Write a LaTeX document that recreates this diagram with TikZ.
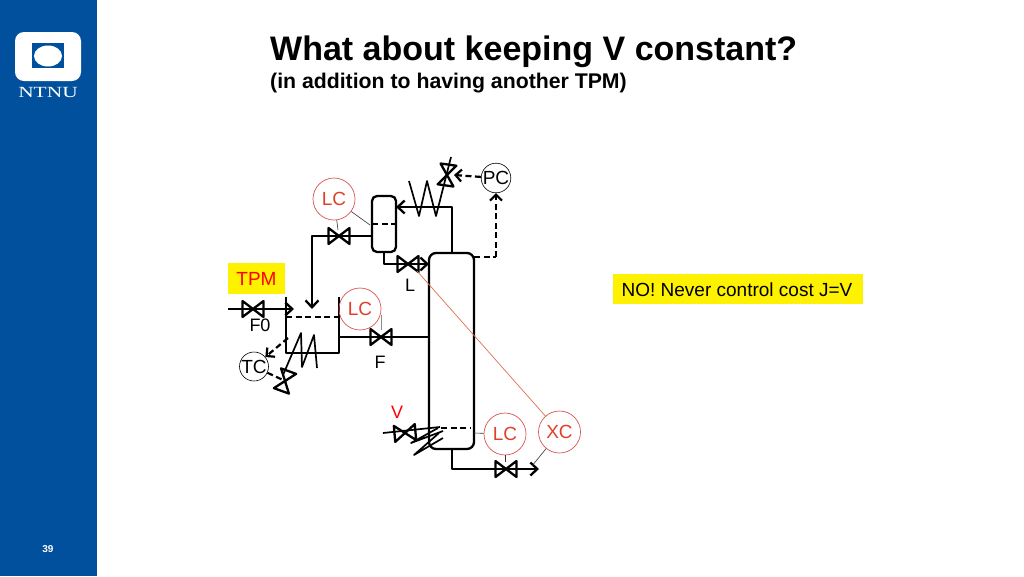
\documentclass[tikz,border=0pt]{standalone}
\usepackage{fontspec}
\setmainfont{Liberation Sans}
\newfontfamily\serifname[FakeStretch=1.38]{Liberation Serif}
\usetikzlibrary{arrows.meta}
\definecolor{ntnu}{HTML}{00509E}
\definecolor{ctrl}{HTML}{E0402A}
\definecolor{ctrlline}{HTML}{D9534F}
\definecolor{xcline}{HTML}{E0714F}
\tikzset{
  pipe/.style={line width=2.3pt,line join=round},
  flow/.style={pipe,-{Straight Barb[length=7pt,width=13pt,line width=2.3pt]}},
  sig/.style={line width=2.2pt,dash pattern=on 6pt off 3.5pt},
  sigarrow/.style={sig,-{Straight Barb[length=6pt,width=12pt,line width=2.2pt]}},
  thinline/.style={line width=0.6pt,black!80},
  redline/.style={line width=0.7pt,draw=xcline},
  rc/.style={circle,draw=ctrlline,line width=0.7pt,minimum size=42pt,inner sep=0pt,text=ctrl,font=\fontsize{19}{20}\selectfont},
  kc/.style={circle,draw=black,line width=0.6pt,minimum size=29pt,inner sep=0pt,font=\fontsize{19}{20}\selectfont},
  lab/.style={inner sep=0pt,font=\fontsize{18}{20}\selectfont},
  valve/.pic={\draw[pipe] (-10.5,-8)--(10.5,8)--(10.5,-8)--(-10.5,8)--cycle;}
}
\begin{document}
\begin{tikzpicture}[x=1pt,y=-1pt]
\useasboundingbox (0,0) rectangle (1024,576);
\fill[white] (0,0) rectangle (1024,576);
\fill[ntnu] (0,0) rectangle (97,576);
% logo
\fill[white,rounded corners=9pt] (15,32) rectangle (81,81);
\fill[ntnu] (32,43) rectangle (64,68);
\fill[white] (48,56) ellipse [x radius=14,y radius=10.5];
\node[text=white,inner sep=0pt,font=\serifname\fontsize{15.5}{16}\selectfont] (ntnulogo) at (48,92) {NTNU};
\node[text=white,inner sep=0pt,font=\bfseries\fontsize{10}{12}\selectfont] (page) at (48,549) {39};
% titles
\node[anchor=west,inner sep=0pt,font=\bfseries\fontsize{34}{36}\selectfont] (title) at (270,52) {What about keeping V constant?};
\node[anchor=west,inner sep=0pt,font=\bfseries\fontsize{21.25}{24}\selectfont] (subtitle) at (270,83) {(in addition to having another TPM)};
% yellow labels
\node[fill=yellow,minimum width=57pt,minimum height=31pt,inner sep=0pt,text=red,font=\fontsize{19}{20}\selectfont] (tpm) at (256.5,278.5) {TPM};
\node[fill=yellow,minimum width=250pt,minimum height=30pt,inner sep=0pt,font=\fontsize{19}{20}\selectfont] (no) at (738,289) {};
\node[inner sep=0pt,font=\fontsize{19}{20}\selectfont] (notext) at (737,290) {NO! Never control cost J=V};
% key points
\coordinate (coltop) at (452,253);
\coordinate (colbot) at (452,449);
\coordinate (colright) at (474,257);
\coordinate (ovhd) at (452,207);
\coordinate (drumin) at (396,207);
\coordinate (drumout) at (372,236);
\coordinate (drumbot) at (384,252);
\coordinate (lelbow) at (384,264);
\coordinate (lend) at (429,264);
\coordinate (refelbow) at (312,236);
\coordinate (refend) at (312,309);
\coordinate (fstart) at (228,309);
\coordinate (fend) at (294,309);
\coordinate (bout) at (339,337);
\coordinate (bin) at (429,337);
\coordinate (pcelbow) at (496,257);
\coordinate (botelbow) at (452,469);
\coordinate (botend) at (539,469);
% equipment
\draw[pipe,rounded corners=7pt] (429,253) rectangle (474,449);
\draw[pipe,rounded corners=5pt] (372,196) rectangle (396,252);
\draw[sig] (372,224)--(396,224);
\draw[sig] (441,428)--(470,428);
\draw[pipe] (286,297)--(286,353)--(339,353)--(339,297);
\draw[sig] (286,317)--(339,317);
% pipes
\draw[flow] (coltop)--(ovhd)--(drumin);
\draw[flow] (drumout)--(refelbow)--(refend);
\draw[flow] (drumbot)--(lelbow)--(lend);
\draw[flow] (fstart)--(fend);
\draw[pipe] (bout)--(bin);
\draw[flow] (colbot)--(botelbow)--(botend);
% valves
\pic at (339,236) {valve};
\pic at (408,264) {valve};
\pic at (253,309) {valve};
\pic at (381,337) {valve};
\pic at (506,469) {valve};
\pic[rotate=5] at (405,433) {valve};
% reboiler and condenser coils
\draw[pipe,line width=1.7pt] (409,181)--(419,216)--(427,181)--(436,216)--(451,157);
\pic[rotate=82] at (447,175) {valve};
\draw[pipe,line width=1.7pt] (283,375)--(301,333)--(302,367)--(314,335)--(317,368);
\pic[rotate=70] at (285,381) {valve};
\draw[pipe,line width=1.7pt] (383,433)--(440,427);
\draw[pipe,line width=1.7pt] (438,428)--(411,443)--(443,431);
\draw[pipe,line width=1.7pt] (439,433)--(414,455)--(443,438);
% controllers
\node[rc] (lc1) at (334,199) {LC};
\node[rc] (lc2) at (360,309) {LC};
\node[rc] (lc3) at (505,434) {LC};
\node[rc] (xc) at (559.5,432) {XC};
\node[kc] (pc) at (496,178) {PC};
\node[kc] (tc) at (254,366.5) {TC};
% labels
\node[lab] (f0) at (260,325) {F0};
\node[lab] (flab) at (380,362) {F};
\node[lab] (llab) at (410,285) {L};
\node[lab,text=red] (vlab) at (397,412) {V};
% signals
\coordinate (v1sig) at (338,230);
\coordinate (drumsig) at (370,225);
\coordinate (fvsig) at (381,330);
\coordinate (colsig) at (474,433);
\coordinate (bvsig) at (505,462);
\coordinate (bendsig) at (532,466);
\coordinate (lvsig) at (417,271);
\draw[thinline] (lc1)--(drumsig);
\draw[thinline] (lc1)--(v1sig);
\draw[line width=0.7pt,black!45] (381,315)--(fvsig);
\draw[thinline] (lc3)--(colsig);
\draw[thinline] (lc3)--(bvsig);
\draw[thinline] (xc)--(bendsig);
\draw[redline] (xc)--(lvsig);
\draw[sigarrow] (pc)--(454,175);
\draw[sig] (colright)--(pcelbow);
\draw[sigarrow] (pcelbow)--(pc);
\draw[sigarrow] (288,338)--(tc);
\draw[sig] (tc)--(283,380);
\end{tikzpicture}
\end{document}
